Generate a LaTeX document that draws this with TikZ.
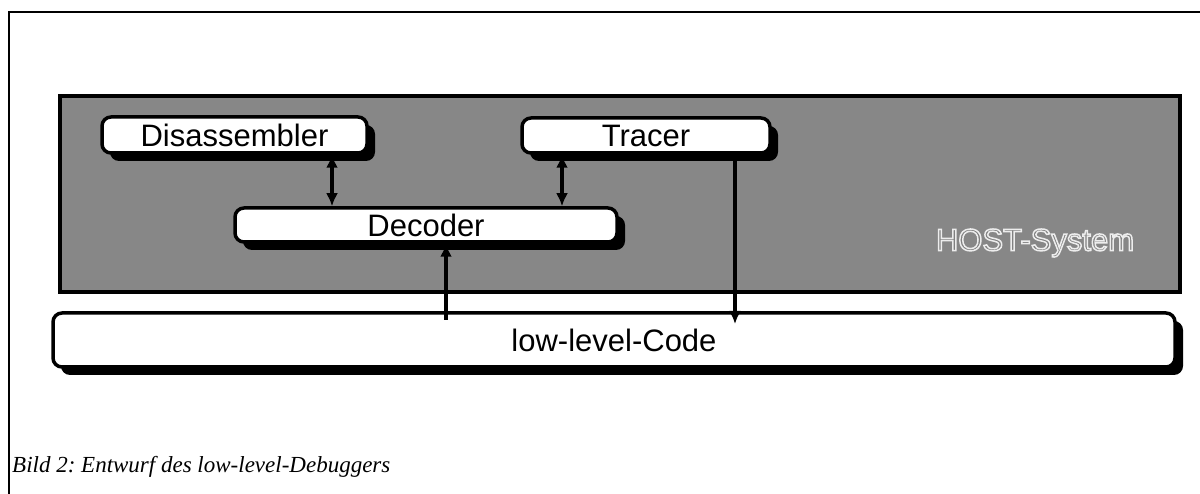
\documentclass[tikz,border=0pt]{standalone}
\usepackage{fontspec}
\setmainfont{Liberation Serif}
\setsansfont{Liberation Sans}
\usetikzlibrary{shadows,arrows.meta}

% outlined lettering: gray fill with a light stroke round each glyph
\newcommand\hollowtext[1]{%
  \special{pdf:literal direct 2 Tr 0.93 0.93 0.93 RG 1.5 w}#1%
  \special{pdf:literal direct 0 Tr 0 0 0 RG}}

\tikzset{
  unit/.style={x=1pt,y=-1pt},
  labelfont/.style={font=\sffamily\fontsize{31}{31}\selectfont},
  modbox/.style={draw=black, line width=3.5pt, fill=white, rounded corners=9pt,
    inner sep=0pt, labelfont,
    drop shadow={shadow xshift=8pt, shadow yshift=-8pt, fill=black, opacity=1}},
  hostbox/.style={draw=black, line width=4.5pt, fill=black!47, inner sep=0pt},
  biarrow/.style={line width=4.5pt, {Latex[length=13pt,width=12pt]}-{Latex[length=13pt,width=12pt]}},
  onearrow/.style={line width=4pt, -{Latex[length=13pt,width=12pt]}},
  frameline/.style={line width=2.5pt}
}

\begin{document}
\frenchspacing
\begin{tikzpicture}[unit]
  \useasboundingbox (0,0) rectangle (1200,494);

  % page frame
  \draw[frameline] (9,500) -- (9,12) -- (1206,12);

  % host system area
  \node[hostbox, minimum width=1120pt, minimum height=196pt] (host) at (620,194) {};
  \node[labelfont, inner sep=0pt, text=black!50] (hostlabel) at (1035,243)
    {\hollowtext{HOST-System}};

  % modules
  \node[modbox, minimum width=265pt, minimum height=36pt] (dis) at (234.5,135) {Disassembler};
  \node[modbox, minimum width=248pt, minimum height=35pt] (tra) at (646,135.5) {Tracer};
  \node[modbox, minimum width=382pt, minimum height=34pt] (dec) at (426,225) {Decoder};
  \node[modbox, minimum width=1122pt, minimum height=54pt] (code) at (614,340) {low-level-Code};

  % columns of the connectors
  \coordinate (cA) at (332,0);
  \coordinate (cB) at (562,0);
  \coordinate (cC) at (446,0);
  \coordinate (cD) at (735,0);
  \coordinate (cEnd) at (446,320);
  \coordinate (dEnd) at (735,324);

  % connectors
  \draw[biarrow] (dis.south -| cA) -- (dec.north -| cA);
  \draw[biarrow] (tra.south -| cB) -- (dec.north -| cB);
  \draw[onearrow] (cEnd) -- (dec.south -| cC);
  \draw[onearrow] (tra.south -| cD) -- (dEnd);

  % caption
  \node[anchor=base west, inner sep=0pt, font=\itshape\fontsize{23}{23}\selectfont] (caption) at (12,472)
    {Bild 2: Entwurf des low-level-Debuggers};
\end{tikzpicture}
\end{document}
